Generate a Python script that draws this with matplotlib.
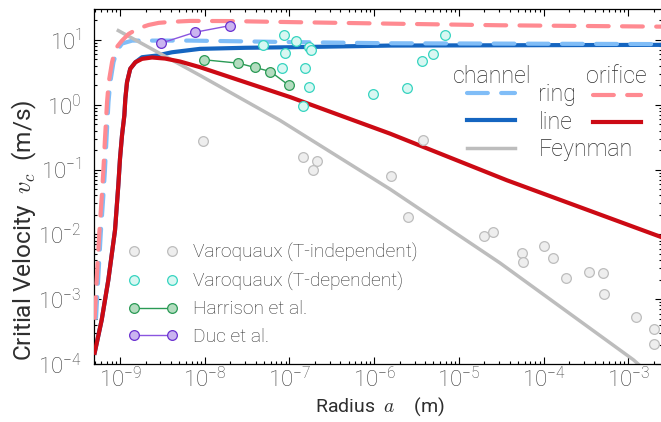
import matplotlib
matplotlib.use('Agg')
import matplotlib.pyplot as plt
from matplotlib.ticker import LogLocator, NullFormatter, FixedLocator

plt.rcParams['font.family'] = ['Roboto', 'DejaVu Sans']
plt.rcParams['font.weight'] = 'light'
plt.rcParams['mathtext.fontset'] = 'cm'
plt.rcParams['mathtext.default'] = 'regular'
plt.rcParams['axes.unicode_minus'] = False

TXT = '#2e2e2e'

x_ticks = [1e-9, 1e-8, 1e-7, 1e-6, 1e-5, 1e-4, 1e-3]
y_ticks = [1e-4, 1e-3, 1e-2, 1e-1, 1e0, 1e1]

# theory curves (a in m, v in m/s)
ring_channel_a = [5.21e-10, 5.62e-10, 5.93e-10, 6.34e-10, 6.62e-10, 6.93e-10, 7.31e-10, 7.68e-10,
                  8.37e-10, 9.22e-10, 1.056e-9, 1.39e-9, 6.7e-9, 1.02e-7, 1.54e-6, 2.5e-3]
ring_channel_v = [5.15e-4, 3.03e-3, 1.05e-2, 3.75e-2, 9.18e-2, 0.303, 1.1, 2.23,
                  4.52, 6.84, 8.77, 9.75, 9.75, 9.25, 8.87, 8.61]

line_channel_a = [5.02e-10, 6.08e-10, 7.28e-10, 8.73e-10, 9.55e-10, 1.0e-9, 1.056e-9, 1.125e-9,
                  1.156e-9, 1.21e-9, 1.32e-9, 1.52e-9, 1.82e-9, 2.71e-9, 4.11e-9, 8.8e-9,
                  3.0e-8, 1.02e-7, 1.54e-6, 2.5e-3]
line_channel_v = [1.49e-4, 4.8e-4, 1.98e-3, 1.16e-2, 5.73e-2, 0.148, 0.337, 0.684,
                  1.24, 2.23, 3.58, 4.52, 5.4, 5.73, 6.44, 7.27,
                  7.55, 7.7, 8.17, 8.38]

ring_orifice_a = [5.02e-10, 5.4e-10, 5.7e-10, 6.08e-10, 6.35e-10, 6.65e-10, 7.03e-10, 7.36e-10,
                  8.05e-10, 8.81e-10, 1.056e-9, 1.27e-9, 1.66e-9, 2.18e-9, 2.86e-9, 4.11e-9,
                  6.7e-9, 2.0e-8, 1.02e-7, 1.54e-6, 3.06e-5, 2.5e-3]
ring_orifice_v = [5.15e-4, 3.03e-3, 1.05e-2, 3.75e-2, 9.18e-2, 0.303, 1.1, 2.23,
                  4.52, 7.27, 9.75, 12.4, 15.1, 17.0, 18.3, 19.0,
                  19.6, 19.5, 18.8, 17.8, 16.8, 16.0]

line_orifice_a = [5.02e-10, 6.08e-10, 7.28e-10, 8.73e-10, 9.55e-10, 1.0e-9, 1.056e-9, 1.125e-9,
                  1.156e-9, 1.21e-9, 1.32e-9, 1.52e-9, 1.82e-9, 2.39e-9, 3.4e-9, 5.1e-9,
                  8.8e-9, 3.43e-8, 1.02e-7, 1.54e-6, 3.68e-5, 2.5e-3]
line_orifice_v = [1.49e-4, 4.8e-4, 1.98e-3, 1.16e-2, 5.73e-2, 0.148, 0.337, 0.684,
                  1.24, 2.23, 3.58, 4.52, 5.1, 5.35, 5.15, 4.64,
                  3.79, 2.1, 1.31, 0.358, 0.0684, 0.0090]

feynman_a = [9.55e-10, 8.8e-9, 7.74e-8, 1.54e-6, 3.06e-5, 1.15e-3, 1.38e-3]
feynman_v = [13.9, 2.83, 0.573, 0.0498, 3.62e-3, 1.16e-4, 9.4e-5]

# experiments
varo_ind_a = [9.6e-9, 1.46e-7, 2.1e-7, 1.91e-7, 1.56e-6, 3.81e-6, 2.5e-6, 1.99e-5, 2.55e-5, 5.53e-5,
              5.78e-5, 1.02e-4, 1.29e-4, 1.85e-4, 3.48e-4, 5.0e-4, 5.22e-4, 1.23e-3, 2.02e-3, 2.02e-3]
varo_ind_v = [0.272, 0.156, 0.134, 0.10, 0.079, 0.29, 0.0187, 0.0095, 0.0107, 0.0051,
              0.0038, 0.0067, 0.0043, 0.0021, 0.0026, 0.0025, 0.0012, 5.3e-4, 3.5e-4, 2.05e-4]

varo_dep_a = [4.92e-8, 8.7e-8, 1.2e-7, 1.7e-7, 1.78e-7, 8.87e-8, 8.1e-8, 1.52e-7, 1.72e-7, 1.44e-7,
              9.6e-7, 2.43e-6, 3.65e-6, 4.92e-6, 6.87e-6]
varo_dep_v = [8.38, 11.9, 9.5, 7.7, 7.0, 6.3, 3.66, 3.66, 1.87, 0.966,
              1.46, 1.8, 4.64, 6.1, 11.9]

harrison_a = [9.9e-9, 2.5e-8, 3.93e-8, 5.96e-8, 9.9e-8]
harrison_v = [4.93, 4.37, 3.75, 3.25, 1.98]

duc_a = [3.03e-9, 7.67e-9, 1.99e-8]
duc_v = [8.87, 13.1, 16.6]

fig = plt.figure(figsize=(6.61, 4.22), dpi=100)
ax = fig.add_axes([0.1422, 0.1374, 0.8593, 0.8405])
ax.set_xscale('log')
ax.set_yscale('log')

dash = dict(dashes=(5.0, 3.2), dash_capstyle='round')
l_line_ch, = ax.plot(line_channel_a, line_channel_v, color='#1565c0', lw=3.0, zorder=2)
l_ring_ch, = ax.plot(ring_channel_a, ring_channel_v, color='#80bdf7', lw=3.0, zorder=2.2, **dash)
l_feyn, = ax.plot(feynman_a, feynman_v, color='#bdbdbd', lw=2.5, zorder=2.4)
l_line_or, = ax.plot(line_orifice_a, line_orifice_v, color='#cc0a14', lw=3.0, zorder=2.6)
l_ring_or, = ax.plot(ring_orifice_a, ring_orifice_v, color='#ff8a91', lw=3.0, zorder=2.8, **dash)

mk = dict(marker='o', ms=7, mew=0.9)
p_ind, = ax.plot(varo_ind_a, varo_ind_v, ls='none', mfc='#eeeeee', mec='#bdbdbd', zorder=4, **mk)
p_dep, = ax.plot(varo_dep_a, varo_dep_v, ls='none', mfc='#d8f7f2', mec='#36d4c0', zorder=4, **mk)
p_har, = ax.plot(harrison_a, harrison_v, color='#2a9a55', lw=1.0, mfc='#b3dcbf', mec='#2a9a55', zorder=4, **mk)
p_duc, = ax.plot(duc_a, duc_v, color='#8a55e0', lw=1.0, mfc='#cab4f0', mec='#6a30d0', zorder=4, **mk)

ax.set_xlim(4.93e-10, 2.5e-3)
ax.set_ylim(1e-4, 29.6)

ax.xaxis.set_major_locator(FixedLocator(x_ticks))
ax.yaxis.set_major_locator(FixedLocator(y_ticks))
for axis in (ax.xaxis, ax.yaxis):
    axis.set_minor_locator(LogLocator(base=10, subs=range(2, 10), numticks=20))
    axis.set_minor_formatter(NullFormatter())
ax.tick_params(which='both', direction='in', top=True, right=True, width=0.8, colors='black',
               labelcolor='#3a3a3a', labelsize=16)
ax.tick_params(which='major', length=5)
ax.tick_params(which='minor', length=2.5)
ax.tick_params(axis='x', pad=2)
ax.tick_params(axis='y', pad=9)
for s in ax.spines.values():
    s.set_linewidth(0.9)

ax.set_xlabel(r'Radius  $\mathit{a}$    (m)', fontsize=14, color=TXT)
ax.set_ylabel(r'Critial Velocity  $\mathit{v_c}$  (m/s)', fontsize=17.6, color=TXT)
ax.xaxis.set_label_coords(0.5035, -0.090)
ax.yaxis.set_label_coords(-0.097, 0.378)

leg1 = ax.legend([p_ind, p_dep, p_har, p_duc],
                 ['Varoquaux (T-independent)', 'Varoquaux (T-dependent)', 'Harrison et al.', 'Duc et al.'],
                 loc='center left', bbox_to_anchor=(0.0597, 0.196), numpoints=2, frameon=False,
                 fontsize=13.8, handlelength=2.6, handletextpad=0.8, labelspacing=0.5,
                 borderpad=0, borderaxespad=0, labelcolor=TXT)
ax.add_artist(leg1)

leg2 = ax.legend([l_ring_ch, l_line_ch, l_feyn], ['ring', 'line', 'Feynman'],
                 loc='center left', bbox_to_anchor=(0.657, 0.682), numpoints=1, frameon=False,
                 fontsize=16.7, handlelength=2.07, handletextpad=1.0, labelspacing=0.18,
                 borderpad=0, borderaxespad=0, labelcolor=TXT)
ax.add_artist(leg2)

leg3 = ax.legend([l_ring_or, l_line_or], [' ', ' '],
                 loc='center left', bbox_to_anchor=(0.879, 0.716), numpoints=1, frameon=False,
                 fontsize=16.7, handlelength=2.07, handletextpad=0.2, labelspacing=0.18,
                 borderpad=0, borderaxespad=0)

ax.text(0.6315, 0.793, 'channel', transform=ax.transAxes, fontsize=16.7, color=TXT, va='baseline')
ax.text(0.866, 0.793, 'orifice', transform=ax.transAxes, fontsize=16.7, color=TXT, va='baseline')

fig.savefig('out.png', dpi=100)
